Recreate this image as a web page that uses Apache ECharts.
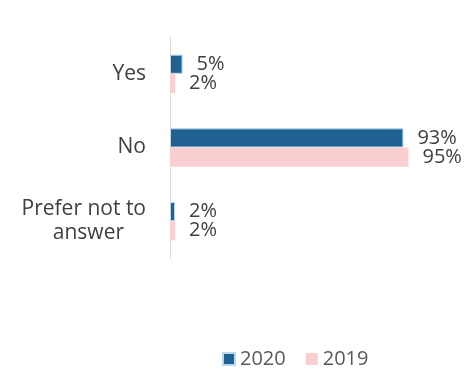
<!DOCTYPE html>
<html><head><meta charset="utf-8">
<script src="https://cdn.jsdelivr.net/npm/echarts@6/dist/echarts.min.js"></script>
<style>html,body{margin:0;padding:0;background:#fff}#c{width:467px;height:376px}</style>
</head><body><div id="c"></div>
<script>
const categories = ['Yes', 'No', 'Prefer not to answer'];
const values2020 = [5, 93, 2];
const values2019 = [2, 95, 2];
const seriesNames = ['2020', '2019'];

const font = '"Open Sans", sans-serif';
const fs = 20;
const chart = echarts.init(document.getElementById('c'), null, {renderer: 'canvas'});
chart.setOption({
  animation: false,
  grid: {left: 170, top: 37, width: 251, height: 221, containLabel: false},
  xAxis: {type: 'value', min: 0, max: 100, show: false},
  yAxis: {
    type: 'category', data: categories, inverse: true,
    axisLine: {show: true, lineStyle: {color: '#d9d9d9', width: 1}},
    axisTick: {show: false},
    axisLabel: {
      margin: 24, color: '#404040', fontSize: 21, fontFamily: font, lineHeight: 24,
      formatter: function (v) {
        if (v === 'Prefer not to answer') return 'Prefer not to\n{a|answer}';
        return v;
      },
      rich: {a: {color: '#404040', fontSize: 21, fontFamily: font, lineHeight: 24, padding: [0, 22, 0, 0]}}
    }
  },
  legend: {
    bottom: 2, left: 217, itemWidth: 12, itemHeight: 12, itemGap: 20,
    textStyle: {color: '#595959', fontSize: fs, fontFamily: font},
    data: [{name: seriesNames[0], icon: 'rect'}, {name: seriesNames[1], icon: 'rect'}]
  },
  series: [
    {
      name: seriesNames[0], type: 'bar', data: values2020, barGap: '0%', barCategoryGap: '48%',
      itemStyle: {color: '#1f6191', borderColor: '#bdd7ee', borderWidth: 1},
      label: {show: true, position: 'right', distance: 14, formatter: '{c}%', color: '#404040', fontSize: fs, fontFamily: font}
    },
    {
      name: seriesNames[1], type: 'bar', data: values2019, barGap: '0%', barCategoryGap: '48%',
      itemStyle: {color: '#f9cfd1'},
      label: {show: true, position: 'right', distance: 14, formatter: '{c}%', color: '#404040', fontSize: fs, fontFamily: font}
    }
  ]
});
</script></body></html>
